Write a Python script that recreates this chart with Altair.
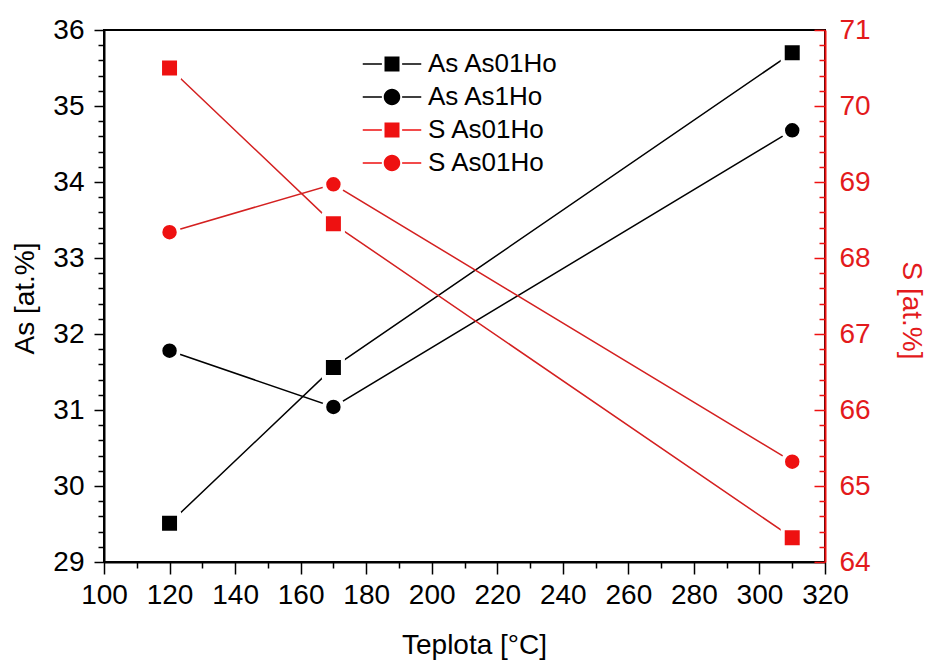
import altair as alt
import pandas as pd

# ---- data ----
temps = [120, 170, 310]
as_as01ho = [29.51, 31.56, 35.70]
as_as1ho = [31.78, 31.04, 34.68]
s_as01ho_sq = [70.50, 68.45, 64.32]
s_as01ho_ci = [68.34, 68.97, 65.32]

series_names = ["As As01Ho", "As As1Ho", "S As01Ho", "S As01Ho "]
series_values = [as_as01ho, as_as1ho, s_as01ho_sq, s_as01ho_ci]

x_tick_values = [100, 110, 120, 130, 140, 150, 160, 170, 180, 190, 200, 210,
                 220, 230, 240, 250, 260, 270, 280, 290, 300, 310, 320]
left_tick_values = [round(29 + 0.2 * i, 1) for i in range(36)]
right_tick_values = [round(64 + 0.2 * i, 1) for i in range(36)]

FONT = "Liberation Sans"
RED = "#ee1111"
RED_LINE = "#d42020"
RED_TEXT = "#e31a1c"

rows = []
for name, vals in zip(series_names, series_values):
    for t, v in zip(temps, vals):
        rows.append({"temp": t, "value": v, "series": name})
df = pd.DataFrame(rows)

major_y = "abs(datum.value - round(datum.value)) < 0.01"

x_axis = alt.Axis(
    values=x_tick_values, title="Teplota [°C]",
    labelExpr="datum.value % 20 === 0 ? format(datum.value, 'd') : ''",
    labelOverlap=False, labelFlush=False,
    tickSize={"expr": "datum.value % 20 === 0 ? 12 : 6"},
    labelPadding=7, titleX=370, titleY=83, titleAlign="center", titleBaseline="middle",
)
x_enc = alt.X("temp:Q", scale=alt.Scale(domain=[100, 320], nice=False, zero=False), axis=x_axis)

left_axis = alt.Axis(
    values=left_tick_values, title="As [at.%]", orient="left",
    labelExpr=major_y + " ? format(datum.value, 'd') : ''",
    labelOverlap=False,
    tickSize={"expr": major_y + " ? 10 : 6"},
    labelPadding=10, titleX=-79, titleY=268, titleAngle=-90,
    titleAlign="center", titleBaseline="middle",
)
right_axis = alt.Axis(
    values=right_tick_values, title="S [at.%]", orient="right",
    labelExpr=major_y + " ? format(datum.value, 'd') : ''",
    labelOverlap=False,
    tickSize={"expr": major_y + " ? -11 : -6"},
    labelPadding=25, titleX=85, titleY=280, titleAngle=90,
    titleAlign="center", titleBaseline="middle",
    domainColor=RED, tickColor=RED, labelColor=RED_TEXT, titleColor=RED_TEXT,
)

y_left = alt.Y("value:Q", scale=alt.Scale(domain=[29, 36], nice=False, zero=False), axis=left_axis)
y_right = alt.Y("value:Q", scale=alt.Scale(domain=[64, 71], nice=False, zero=False), axis=right_axis)

base = alt.Chart(df)


def sel(name):
    return alt.FieldEqualPredicate(field="series", equal=name)


def series_layer(name, y_enc, color, line_color, shape, size):
    line = base.transform_filter(sel(name)).mark_line(color=line_color, strokeWidth=1.5).encode(
        x=x_enc, y=y_enc)
    pts = base.transform_filter(sel(name)).mark_point(
        shape=shape, filled=True, fill=color, stroke="white", strokeWidth=4, size=size, opacity=1
    ).encode(x=x_enc, y=y_enc)
    return line, pts


l1, p1 = series_layer("As As01Ho", y_left, "black", "black", "square", 361)
l2, p2 = series_layer("As As1Ho", y_left, "black", "black", "circle", 340)
l3, p3 = series_layer("S As01Ho", y_right, RED, RED_LINE, "square", 361)
l4, p4 = series_layer("S As01Ho ", y_right, RED, RED_LINE, "circle", 340)

left_group = alt.layer(l1, l2, p1, p2)
right_group = alt.layer(l3, l4, p3, p4)

sq_path = "M-3.9,-0.09H-1.35V0.09H-3.9Z M1.35,-0.09H3.9V0.09H1.35Z M-1,-1H1V1H-1Z"
ci_path = ("M-3.9,-0.09H-1.35V0.09H-3.9Z M1.35,-0.09H3.9V0.09H1.35Z "
           "M-1.1,0A1.1,1.1,0,1,0,1.1,0A1.1,1.1,0,1,0,-1.1,0Z")

legend = alt.Legend(
    title=None, orient="none", legendX=275, legendY=21, symbolSize=225,
    labelFont=FONT, labelFontSize=26, labelColor="black", labelOffset=23,
    rowPadding=7, symbolStrokeWidth=0, padding=0, labelLimit=300,
)
legend_layer = alt.Chart(df).transform_filter("false").mark_point(filled=True, opacity=1).encode(
    shape=alt.Shape("series:N", scale=alt.Scale(domain=series_names,
                                                range=[sq_path, ci_path, sq_path, ci_path]),
                    legend=legend),
    color=alt.Color("series:N", scale=alt.Scale(domain=series_names,
                                                range=["black", "black", RED, RED]),
                    legend=legend),
)

chart = alt.layer(left_group, right_group, legend_layer).resolve_scale(
    y="independent"
).properties(
    width=721, height=532,
    padding={"left": 104, "top": 30, "right": 109, "bottom": 99},
    autosize=alt.AutoSizeParams(type="none"),
    background="white",
).configure_view(
    stroke="black", strokeWidth=2
).configure_axis(
    grid=False, labelFont=FONT, labelFontSize=28, titleFont=FONT, titleFontSize=28,
    titleFontWeight="normal", domainWidth=2, tickWidth=1.5, domainColor="black",
    tickColor="black", labelColor="black", titleColor="black",
)

chart.save("out.html", embed_options={"renderer": "svg", "actions": False})
